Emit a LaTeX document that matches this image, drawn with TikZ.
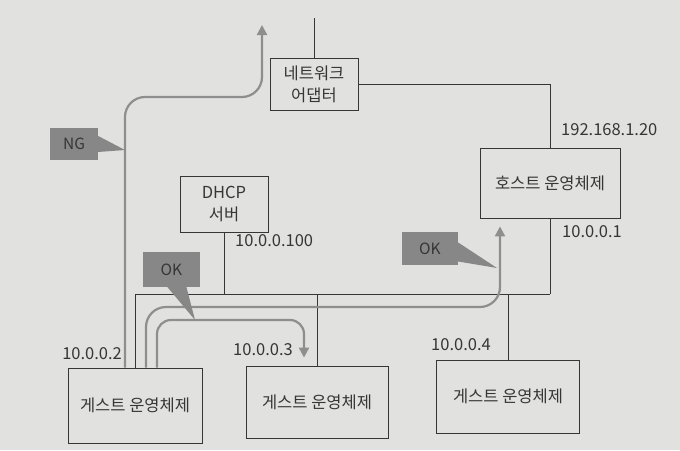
\documentclass[tikz,border=0pt]{standalone}
\usepackage{fontspec}
\setmainfont{Noto Sans CJK KR}
\usetikzlibrary{arrows.meta}
\definecolor{bg}{HTML}{E1E1DF}
\definecolor{ink}{HTML}{363636}
\definecolor{flowc}{HTML}{8E8E8E}
\definecolor{tagc}{HTML}{878787}
\begin{document}
\begin{tikzpicture}[x=1pt,y=-1pt,
  font=\fontsize{16.5}{22}\selectfont,
  box/.style={draw=ink, line width=0.9pt, text=ink, inner sep=0pt, align=center},
  wire/.style={draw=ink, line width=0.9pt},
  lbl/.style={text=ink, inner sep=0pt},
  flow/.style={draw=flowc, line width=2.2pt, rounded corners=20pt, -{Triangle[width=10pt,length=10pt]}},
  tagbox/.style={fill=tagc, text=ink, inner sep=0pt, font=\fontsize{15.5}{17}\selectfont},
  tagptr/.style={fill=tagc}]
\fill[bg] (0,0) rectangle (680,450);
\useasboundingbox (0,0) rectangle (680,450);

% boxes
\node[box, minimum width=88pt, minimum height=52pt] (adapter) at (314,84) {네트워크\\어댑터};
\node[box, minimum width=140pt, minimum height=70pt] (host) at (550,183) {호스트 운영체제};
\node[box, minimum width=88pt, minimum height=56pt] (dhcp) at (224,204) {DHCP\\서버};
\node[box, minimum width=134pt, minimum height=75pt] (g1) at (135,405.5) {게스트 운영체제};
\node[box, minimum width=142pt, minimum height=72pt] (g2) at (317,402) {게스트 운영체제};
\node[box, minimum width=143pt, minimum height=73pt] (g3) at (508,396.5) {게스트 운영체제};

% coordinates
\coordinate (top) at (314,18);
\coordinate (busL) at (135,294);
\coordinate (busR) at (550,294);
\coordinate (ngtop) at (262,25);

% wires
\draw[wire] (adapter.north) -- (top);
\draw[wire] (adapter.east) -| (host.north);
\draw[wire] (busL) -- (busR);
\draw[wire] (host.south) -- (busR);
\draw[wire] (dhcp.south) -- (dhcp.south |- busL);
\draw[wire] (busL) -- (g1.north);
\draw[wire] (g2.north |- busL) -- (g2.north);
\draw[wire] (g3.north |- busL) -- (g3.north);

% address labels
\node[lbl, anchor=west] (ip1) at (561,130) {192.168.1.20};
\node[lbl, anchor=west] (ip2) at (562,232) {10.0.0.1};
\node[lbl, anchor=west] (ip3) at (235,241) {10.0.0.100};
\node[lbl, anchor=east] (ip4) at (122,354) {10.0.0.2};
\node[lbl, anchor=west] (ip5) at (233,350) {10.0.0.3};
\node[lbl, anchor=west] (ip6) at (431,345) {10.0.0.4};

% flows
\draw[flow] ([xshift=-10pt]g1.north) -- (125,97) -- (262,97) -- (ngtop);
\draw[flow] ([xshift=11pt]g1.north) -- (146,307) -- (500,307) -- ([xshift=-50pt,yshift=-8pt]host.south);
\draw[flow, rounded corners=14pt] ([xshift=22pt]g1.north) -- (157,320) -- (304,320) -- ([xshift=-13pt,yshift=8pt]g2.north);

% callouts
\node[tagbox, minimum width=48pt, minimum height=32pt] (ng) at (74,144) {NG};
\coordinate (ngtip) at (125,150);
\fill[tagptr] ([yshift=8pt]ng.east) -- (ngtip) -- ([yshift=-8pt]ng.east) -- cycle;

\node[tagbox, minimum width=57pt, minimum height=35pt] (ok1) at (171.5,269.5) {OK};
\coordinate (ok1tip) at (195,320);
\fill[tagptr] ([xshift=-4pt]ok1.south) -- (ok1tip) -- ([xshift=15pt]ok1.south) -- cycle;

\node[tagbox, minimum width=56pt, minimum height=33pt] (ok2) at (430,248.5) {OK};
\coordinate (ok2tip) at (497,268);
\fill[tagptr] ([yshift=6pt]ok2.east) -- (ok2tip) -- ([yshift=-13pt]ok2.east) -- cycle;
\end{tikzpicture}
\end{document}
